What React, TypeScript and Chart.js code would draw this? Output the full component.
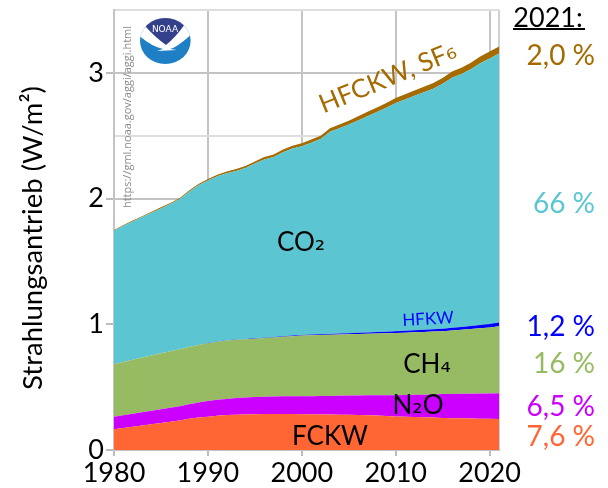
import React, { useEffect, useRef } from "react";
import { Chart, registerables } from "chart.js";

Chart.register(...registerables);

const years = [1980,1981,1982,1983,1984,1985,1986,1987,1988,1989,1990,1991,1992,1993,1994,1995,1996,1997,1998,1999,2000,2001,2002,2003,2004,2005,2006,2007,2008,2009,2010,2011,2012,2013,2014,2015,2016,2017,2018,2019,2020,2021];
const fckw = [0.165,0.175,0.185,0.195,0.205,0.215,0.225,0.235,0.248,0.258,0.265,0.272,0.278,0.281,0.283,0.285,0.286,0.287,0.287,0.286,0.285,0.284,0.283,0.282,0.281,0.28,0.278,0.276,0.274,0.27,0.266,0.264,0.262,0.26,0.258,0.255,0.253,0.252,0.251,0.249,0.248,0.246];
const n2o = [0.099,0.101,0.103,0.105,0.107,0.109,0.111,0.113,0.115,0.119,0.125,0.127,0.128,0.132,0.134,0.136,0.137,0.139,0.14,0.141,0.142,0.144,0.146,0.148,0.151,0.154,0.156,0.159,0.162,0.166,0.17,0.174,0.177,0.18,0.184,0.19,0.193,0.195,0.197,0.2,0.202,0.206];
const ch4 = [0.419,0.424,0.429,0.435,0.44,0.446,0.45,0.454,0.457,0.458,0.46,0.463,0.466,0.464,0.464,0.464,0.467,0.469,0.473,0.478,0.483,0.484,0.485,0.486,0.486,0.486,0.488,0.489,0.49,0.492,0.494,0.495,0.497,0.499,0.5,0.5,0.505,0.51,0.515,0.52,0.525,0.533];
const hfkw = [0,0,0,0,0,0,0,0,0,0,0.001,0.001,0.002,0.002,0.002,0.003,0.003,0.004,0.004,0.005,0.005,0.006,0.006,0.007,0.008,0.009,0.01,0.011,0.012,0.013,0.014,0.015,0.016,0.017,0.018,0.02,0.021,0.022,0.024,0.026,0.028,0.03];
const co2 = [1.061,1.084,1.101,1.118,1.135,1.152,1.17,1.194,1.235,1.27,1.292,1.314,1.327,1.341,1.361,1.39,1.418,1.431,1.465,1.488,1.501,1.527,1.554,1.609,1.634,1.66,1.69,1.72,1.75,1.781,1.816,1.841,1.865,1.89,1.914,1.948,1.989,2.011,2.041,2.082,2.112,2.139];
const hfckw = [0.006,0.006,0.007,0.007,0.008,0.008,0.009,0.009,0.01,0.01,0.012,0.013,0.014,0.015,0.016,0.017,0.019,0.02,0.021,0.022,0.024,0.025,0.026,0.028,0.03,0.031,0.033,0.035,0.037,0.038,0.04,0.041,0.043,0.044,0.046,0.047,0.049,0.05,0.052,0.053,0.055,0.056];

const seriesNames = ["FCKW", "N₂O", "CH₄", "HFKW", "CO₂", "HFCKW, SF₆"];
const seriesColors = ["#ff6633", "#cc00ff", "#97bb62", "#0000ff", "#5bc6d2", "#a56a00"];
const seriesValues = [fckw, n2o, ch4, hfkw, co2, hfckw];
const shareLabels = ["7,6 %", "6,5 %", "16 %", "1,2 %", "66 %", "2,0 %"];
const shareY = [437, 407, 364, 327, 204, 56];
const FONT = "Lato, 'Open Sans', sans-serif";
const SUB = "'DejaVu Sans', sans-serif";

function text(ctx: CanvasRenderingContext2D, s: string, x: number, y: number, size: number, color: string, align: "center" | "right" = "center", rot = 0, family = FONT) {
  ctx.save();
  ctx.translate(x, y);
  ctx.rotate(rot);
  ctx.fillStyle = color;
  ctx.textBaseline = "middle";
  ctx.textAlign = "left";
  const runs = s.match(/[₂₄₆]|[^₂₄₆]+/g) || [];
  const fontFor = (r: string) => (/[₂₄₆]/.test(r) ? `${size}px ${SUB}` : `${size}px ${family}`);
  let total = 0;
  runs.forEach((r) => { ctx.font = fontFor(r); total += ctx.measureText(r).width; });
  let cx = align === "center" ? -total / 2 : -total;
  runs.forEach((r) => {
    ctx.font = fontFor(r);
    ctx.fillText(r, cx, 0);
    cx += ctx.measureText(r).width;
  });
  ctx.restore();
}

function logo(ctx: CanvasRenderingContext2D) {
  ctx.save();
  ctx.beginPath();
  ctx.ellipse(165.3, 41, 25.3, 23, 0, 0, Math.PI * 2);
  ctx.clip();
  ctx.fillStyle = "#1f7fc4";
  ctx.fillRect(135, 15, 60, 55);
  ctx.fillStyle = "#ffffff";
  ctx.beginPath();
  ctx.moveTo(135, 15); ctx.lineTo(195, 15); ctx.lineTo(195, 31);
  ctx.quadraticCurveTo(178, 47, 170, 49);
  ctx.lineTo(177, 50); ctx.lineTo(157, 51); ctx.lineTo(163, 49);
  ctx.quadraticCurveTo(150, 46, 135, 32);
  ctx.closePath();
  ctx.fill();
  ctx.fillStyle = "#33408a";
  ctx.beginPath();
  ctx.moveTo(145, 26);
  ctx.quadraticCurveTo(156, 38, 166, 45);
  ctx.quadraticCurveTo(176, 37, 185, 24);
  ctx.lineTo(185, 15); ctx.lineTo(145, 15);
  ctx.closePath();
  ctx.fill();
  ctx.restore();
  text(ctx, "NOAA", 165, 30, 9, "#ffffff", "center", 0, "'DejaVu Sans', sans-serif");
}

const overlay = {
  id: "overlay",
  afterDatasetsDraw(chart: Chart) {
    const ctx = chart.ctx;
    text(ctx, "Strahlungsantrieb (W/m²)", 33, 238, 27.5, "#000000", "center", -Math.PI / 2);
    text(ctx, "https://gml.noaa.gov/aggi/aggi.html", 128, 117, 11, "#8c8c8c", "center", -Math.PI / 2, "'Open Sans', sans-serif");
    logo(ctx);

    text(ctx, "HFCKW, SF₆", 388, 78, 26, "#a56a00", "center", -0.39);
    text(ctx, "CO₂", 301, 243, 26, "#000000");
    text(ctx, "CH₄", 427, 365, 26, "#000000");
    text(ctx, "N₂O", 418, 406, 26, "#000000");
    text(ctx, "FCKW", 330, 437, 26, "#000000");
    text(ctx, "HFKW", 428, 319, 17, "#0000ff", "center", -0.06);

    text(ctx, "2021:", 548, 18, 27, "#000000");
    ctx.fillStyle = "#000000";
    ctx.fillRect(513, 28, 72, 2);
    shareLabels.forEach((s, i) => text(ctx, s, 595, shareY[i], 28, seriesColors[i], "right"));
  },
};

const isDecade = (i: number) => years[i] % 10 === 0;

export default function App() {
  const ref = useRef<HTMLCanvasElement>(null);
  useEffect(() => {
    document.body.style.margin = "0";
    const chart = new Chart(ref.current!, {
      type: "line",
      data: {
        labels: years,
        datasets: seriesNames.map((name, i) => ({
          label: name,
          data: seriesValues[i],
          backgroundColor: seriesColors[i],
          borderWidth: 0,
          pointRadius: 0,
          tension: 0,
          fill: i === 0 ? "origin" : "-1",
        })),
      },
      options: {
        responsive: false,
        animation: false,
        layout: { padding: { top: 10, right: 109, left: 0, bottom: 0 } },
        plugins: { legend: { display: false }, tooltip: { enabled: false } },
        scales: {
          x: {
            type: "category",
            offset: false,
            afterFit: (s: any) => { s.height = 38; },
            grid: {
              color: (c: any) => {
                const i = c.index;
                if (i === years.length - 1) return "#d0d0d0";
                return isDecade(i) ? "#c4c4c4" : "rgba(0,0,0,0)";
              },
              tickColor: (c: any) => (isDecade(c.index) ? "#bdbdbd" : "rgba(0,0,0,0)"),
              lineWidth: 2,
              tickLength: 6,
            },
            border: { color: "#c4c4c4", width: 2 },
            ticks: {
              autoSkip: false,
              maxRotation: 0,
              color: "#000000",
              font: { family: FONT, size: 27 },
              padding: 1,
              callback: (_: any, i: number) => (isDecade(i) ? String(years[i]) : ""),
            },
          },
          y: {
            stacked: true,
            min: 0,
            max: 3.5,
            afterFit: (s: any) => { s.width = 114; s.paddingTop = 0; s.paddingBottom = 0; },
            grid: {
              color: (c: any) => (Number.isInteger(c.tick?.value) ? "#c4c4c4" : "#dedede"),
              tickColor: (c: any) => (Number.isInteger(c.tick?.value) ? "#bdbdbd" : "rgba(0,0,0,0)"),
              lineWidth: 2,
              tickLength: 8,
            },
            border: { color: "#c4c4c4", width: 2 },
            ticks: {
              stepSize: 0.5,
              color: "#000000",
              font: { family: FONT, size: 27 },
              padding: 2,
              callback: (v: any) => (Number.isInteger(v) ? String(v) : ""),
            },
          },
        },
      },
      plugins: [overlay],
    } as any);
    return () => chart.destroy();
  }, []);
  return <canvas ref={ref} width={608} height={488} style={{ display: "block" }} />;
}
